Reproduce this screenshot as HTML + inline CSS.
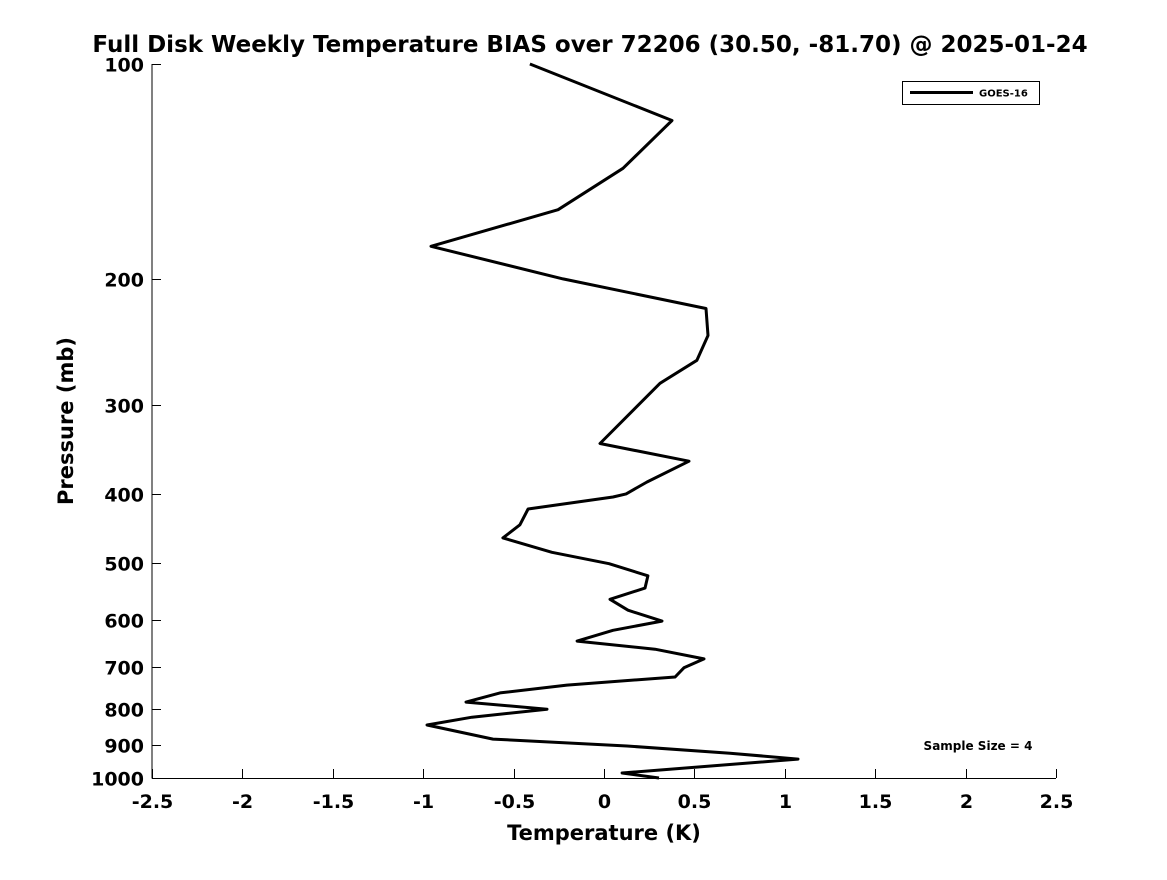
<!DOCTYPE html>
<html><head><meta charset="utf-8"><style>
body{margin:0;background:#fff;}
svg text{font-family:"DejaVu Sans","Liberation Sans",sans-serif;font-weight:bold;fill:#000;}
</style></head><body>
<svg width="1167" height="875" viewBox="0 0 1167 875">
<text x="590" y="52" font-size="23" text-anchor="middle">Full Disk Weekly Temperature BIAS over 72206 (30.50, -81.70) @ 2025-01-24</text>
<g id="axes"></g>
<path id="line" fill="none" stroke="#000" stroke-width="3" stroke-linejoin="round"/>
<g>
<rect x="902.5" y="81.5" width="137" height="23" fill="#fff" stroke="#000" stroke-width="1"/>
<line x1="910" y1="92.5" x2="973" y2="92.5" stroke="#000" stroke-width="3"/>
<text x="979" y="96.5" font-size="10">GOES-16</text>
</g>
<text x="978" y="750" font-size="12" text-anchor="middle">Sample Size = 4</text>
<text x="604" y="840" font-size="21" text-anchor="middle">Temperature (K)</text>
<text transform="translate(73,421) rotate(-90)" font-size="21" text-anchor="middle">Pressure (mb)</text>
</svg>
<script>
const temps=[-0.41,0.376,0.105,-0.254,-0.957,-0.227,0.564,0.575,0.514,0.31,-0.022,0.47,0.238,0.122,0.05,-0.42,-0.465,-0.5,-0.559,-0.288,0.028,0.243,0.227,0.033,0.133,0.321,0.05,-0.149,0.282,0.553,0.442,0.393,-0.205,-0.575,-0.763,-0.315,-0.73,-0.979,-0.614,0.127,0.697,1.073,0.1,0.304];
const pressures=[100,120,140,160,180,200,220,240,260,280,340,360,385,400,404,420,442,449,461,483,501,521,542,562,582,603,621,643,660,681,701,722,741,760,783,801,822,843,882,902,923,941,984,1000];
const xTicks=[-2.5,-2,-1.5,-1,-0.5,0,0.5,1,1.5,2,2.5];
const yTicks=[100,200,300,400,500,600,700,800,900,1000];
const X0=152,X1=1056,Y0=64,Y1=778;
function xs(v){return X0+(v+2.5)/5*(X1-X0);}
function ys(p){return Y0+Math.log10(p/100)*(Y1-Y0);}
const NS="http://www.w3.org/2000/svg";
const ax=document.getElementById('axes');
function mk(t,a){const e=document.createElementNS(NS,t);for(const k in a)e.setAttribute(k,a[k]);ax.appendChild(e);return e;}
let l=mk('line',{x1:X0,y1:Y0,x2:X0,y2:Y1+0.5,stroke:'#000','stroke-width':1});


l=mk('line',{x1:X0,y1:Y1+0.5,x2:X1,y2:Y1+0.5,stroke:'#000','stroke-width':1});


xTicks.forEach(v=>{const x=Math.round(xs(v))+0.5;
 const t=mk('line',{x1:x,y1:Y1,x2:x,y2:Y1-9,stroke:'#000','stroke-width':1});
 
 
 const tx=mk('text',{x:x,y:808,'font-size':19,'text-anchor':'middle'});tx.textContent=String(v);
 
 });
yTicks.forEach(v=>{const y=Math.round(ys(v))+0.5;
 const t=mk('line',{x1:X0,y1:y,x2:X0+9,y2:y,stroke:'#000','stroke-width':1});
 
 
 const tx=mk('text',{x:144,y:y+7,'font-size':19,'text-anchor':'end'});tx.textContent=String(v);
 
 });
document.getElementById('line').setAttribute('d',temps.map((t,i)=>(i?'L':'M')+xs(t).toFixed(1)+','+ys(pressures[i]).toFixed(1)).join(''));
</script>
</body></html>
